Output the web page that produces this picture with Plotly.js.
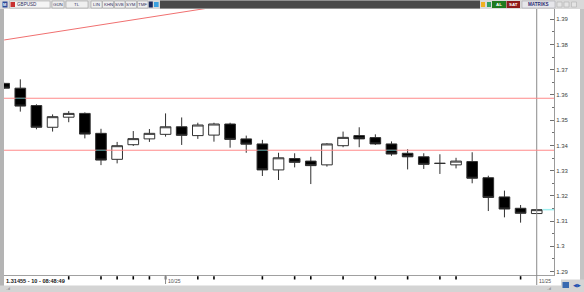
<!DOCTYPE html>
<html><head><meta charset="utf-8">
<script src="https://cdn.plot.ly/plotly-3.0.1.min.js"></script>
<style>html,body{margin:0;padding:0;background:#ffffff;}#chart{width:584px;height:292px;}</style>
</head><body><div id="chart"></div>
<script>
// ---------- DATA ----------
const dates = ['2025-09-17','2025-09-18','2025-09-19','2025-09-22','2025-09-23','2025-09-24','2025-09-25','2025-09-26','2025-09-29','2025-09-30',
  '2025-10-01','2025-10-02','2025-10-03','2025-10-06','2025-10-07','2025-10-08','2025-10-09','2025-10-10','2025-10-13','2025-10-14',
  '2025-10-15','2025-10-16','2025-10-17','2025-10-20','2025-10-21','2025-10-22','2025-10-23','2025-10-24','2025-10-27','2025-10-28',
  '2025-10-29','2025-10-30','2025-10-31','2025-11-03'];
const open  = [1.3646,1.3627,1.3558,1.3472,1.3512,1.3527,1.3448,1.3345,1.3403,1.3426,
  1.3444,1.3474,1.3439,1.3441,1.3485,1.3426,1.3406,1.3303,1.3348,1.3338,
  1.3323,1.3399,1.3439,1.3431,1.3406,1.3369,1.3355,1.3329,1.3323,1.3336,
  1.3272,1.3196,1.3151,1.3130];
const high  = [1.3648,1.3662,1.3563,1.3523,1.3536,1.3531,1.3466,1.3414,1.3457,1.3465,
  1.3527,1.3511,1.3490,1.3490,1.3490,1.3439,1.3422,1.3371,1.3369,1.3355,
  1.3409,1.3455,1.3472,1.3444,1.3416,1.3385,1.3369,1.3365,1.3351,1.3373,
  1.3280,1.3221,1.3164,1.31455];
const low   = [1.3625,1.3534,1.3464,1.3455,1.3492,1.3428,1.3322,1.3329,1.3398,1.3414,
  1.3435,1.3402,1.3426,1.3415,1.3391,1.3371,1.3279,1.3263,1.3313,1.3247,
  1.3316,1.3393,1.3393,1.3402,1.3359,1.3305,1.3307,1.3287,1.3309,1.3250,
  1.3140,1.3115,1.3094,1.3130];
const close = [1.3627,1.3556,1.3472,1.3514,1.3527,1.3445,1.3342,1.3399,1.3427,1.3448,
  1.3474,1.3440,1.3481,1.3485,1.3424,1.3405,1.3303,1.3351,1.3333,1.3320,
  1.3406,1.3432,1.3426,1.3406,1.3366,1.3355,1.3325,1.3329,1.3338,1.3270,
  1.3194,1.3148,1.3131,1.31455];
const levels = [1.3587, 1.3381];
const trendDates = ['2025-09-17','2025-10-07'];
const trendPrices = [1.3818, 1.3958];
const tickDates = ['2025-09-23','2025-09-25','2025-09-26','2025-09-29','2025-09-30','2025-10-01','2025-10-03','2025-10-06',
  '2025-10-09','2025-10-13','2025-10-14','2025-10-16','2025-10-20','2025-10-22','2025-10-24','2025-10-27','2025-10-31'];
const monthDates = ['2025-10-01','2025-11-03'];
const monthLabels = ['10/25','11/25'];
const lastPrice = 1.31455;
const infoText = '1.31455 - 10 - 08:48:49';
const symbol = 'GBPUSD';
const toolButtons = ['GÜN','TL','LIN','KHN','SVB','SYM','TMF'];
const rightButtons = ['AL','SAT','MATRIKS'];

// ---------- LAYOUT HELPERS ----------
const W=584,H=292,ML=4,MR=30,MT=9,MB=17;
const PW=W-ML-MR, PH=H-MT-MB;
const px2x = px => (px-ML)/PW;
const px2y = py => (H-MB-py)/PH;
const xRange=[-0.01, 34.07];
const shapes=[], ann=[];
function rect(x0,y0,x1,y1,fill,line,lw){
  shapes.push({type:'rect',xref:'paper',yref:'paper',x0:px2x(x0),x1:px2x(x1),y0:px2y(y1),y1:px2y(y0),
    fillcolor:fill,line:{color:line||fill,width:lw===undefined?0:lw},layer:'above'});
}
function label(px,py,text,size,color,anchor,bold,family){
  ann.push({xref:'paper',yref:'paper',x:px2x(px),y:px2y(py),text:bold?'<b>'+text+'</b>':text,showarrow:false,
    xanchor:anchor||'center',yanchor:'middle',borderpad:0,
    font:{size:size,color:color,family:family||'Liberation Sans, Arial, sans-serif'}});
}

// frame
rect(0,0,584,9,'#d9d9d9');
rect(0,9,4,292,'#b4b4b4');
rect(580,9,584,292,'#c4c4c4');
rect(0,285.5,584,292,'#d4d4d4');
rect(561,279.5,584,292,'#d4d4d4');
// toolbar left
rect(2.5,1.5,7.5,7.5,'#2b4a9a');
label(5,4.6,'M',4,'#ffffff','center',true);
rect(9.5,1,50,8,'#f4f4f4','#a8a8a8',0.6);
rect(10.5,2,15,7,'#c83030');
label(15.5,4.6,symbol,4.6,'#303060','left');
const btnX=[[52,64],[66,88],[91,102],[102.5,113.5],[114.5,125],[125.5,136.5],[137.5,148]];
toolButtons.forEach((t,i)=>{
  rect(btnX[i][0],1,btnX[i][1],8,'#efefef','#a0a0a0',0.6);
  label((btnX[i][0]+btnX[i][1])/2,4.6,t,4.4,'#303060','center');
});
rect(148.8,1.5,152.8,7.5,'#1c2a5c');
rect(154,2,158.6,7,'#3aa0e0');
rect(160,0.5,480,8.5,'#4a4a4a');
// toolbar right
rect(481,2,485,7,'#f0b020');
rect(487,2,491,7,'#30a060');
rect(492,1,506,8,'#1f7a1f');
label(499,4.6,rightButtons[0],4.4,'#ffffff','center',true);
rect(506.5,1,520,8,'#8e1a1a');
label(513.3,4.6,rightButtons[1],4.4,'#ffffff','center',true);
rect(522,1,555,8,'#e6e6ea','#a8a8b0',0.6);
label(538.5,4.6,rightButtons[2],4.6,'#2a2a70','center',true);
[[557,562],[564,569],[571.5,576.5]].forEach(b=>rect(b[0],2,b[1],7,'#e4e4e4','#b0b0b0',0.6));
// bottom right icons
rect(562.5,282,569,288,'#3a6ab0');
label(576.5,285,'◀▶',5,'#2050b0','center');
// bottom info text
label(5,281.3,infoText,5.6,'#202020','left',true);
label(5,288.5,'..d',3.5,'#707070','left');
label(546,288.5,'..d',3.5,'#707070','left');

// time-axis tick marks
tickDates.forEach(d=>{
  const idx=dates.indexOf(d);
  shapes.push({type:'line',xref:'x',yref:'paper',x0:idx,x1:idx,y0:px2y(279.5),y1:px2y(276.2),line:{color:'#000000',width:1.6}});
});
// month separators & labels
monthDates.forEach((d,i)=>{
  const idx=dates.indexOf(d);
  shapes.push({type:'line',xref:'x',yref:'paper',x0:idx,x1:idx,y0:px2y(i===1?285:284),y1:i===1?px2y(9):px2y(275),
    line:{color:'#8a8a8a',width:1}});
  ann.push({xref:'x',yref:'paper',x:idx,y:px2y(281.3),xshift:1.5,text:monthLabels[i],showarrow:false,xanchor:'left',yanchor:'middle',
    borderpad:0,font:{size:5,color:'#505050',family:'Liberation Sans, Arial, sans-serif'}});
});

// horizontal support/resistance lines
levels.forEach(l=>shapes.push({type:'line',xref:'paper',yref:'y',x0:0,x1:1,y0:l,y1:l,line:{color:'#ff8a8a',width:1},layer:'above'}));
// inverted colour where a level crosses a black body
dates.forEach((d,i)=>{
  if(close[i]<open[i]) levels.forEach(l=>{
    if(l<=open[i] && l>=close[i]) shapes.push({type:'line',xref:'x',yref:'y',x0:i-0.3,x1:i+0.3,y0:l,y1:l,line:{color:'#1a7f7f',width:1},layer:'above'});
  });
});
// current price line
const li=dates.length-1;
shapes.push({type:'line',xref:'x',yref:'y',x0:li+0.36,x1:xRange[1],y0:lastPrice,y1:lastPrice,line:{color:'#9ff0f0',width:1.5},layer:'above'});

const traces=[
  {type:'candlestick',x:dates,open:open,high:high,low:low,close:close,
   increasing:{line:{color:'#303030',width:1},fillcolor:'#ffffff'},
   decreasing:{line:{color:'#303030',width:1},fillcolor:'#000000'},
   whiskerwidth:0,hoverinfo:'skip',showlegend:false},
  {type:'scatter',mode:'lines',x:trendDates,y:trendPrices,line:{color:'#f07070',width:1},hoverinfo:'skip',showlegend:false}
];

const layout={
  width:W,height:H,margin:{l:ML,r:MR,t:MT,b:MB,pad:0},
  paper_bgcolor:'#ffffff',plot_bgcolor:'#ffffff',showlegend:false,
  boxgap:0.34,boxgroupgap:0,
  xaxis:{type:'category',range:xRange,rangeslider:{visible:false},showgrid:false,zeroline:false,
    showline:true,linecolor:'#a0a0a0',linewidth:1,ticks:'',showticklabels:false,fixedrange:true},
  yaxis:{side:'right',range:[1.28865,1.39408],dtick:0.01,tick0:1.29,showgrid:false,zeroline:false,
    showline:true,linecolor:'#9a9a9a',linewidth:1,ticks:'inside',ticklen:4,tickcolor:'#707070',tickwidth:1,
    minor:{dtick:0.005,ticks:'inside',ticklen:2,tickcolor:'#707070',showgrid:false},
    tickfont:{size:6,color:'#404040',family:'Liberation Sans, Arial, sans-serif'},ticklabelstandoff:0,fixedrange:true},
  shapes:shapes,annotations:ann
};
Plotly.newPlot('chart',traces,layout,{displayModeBar:false,staticPlot:true});
</script></body></html>
